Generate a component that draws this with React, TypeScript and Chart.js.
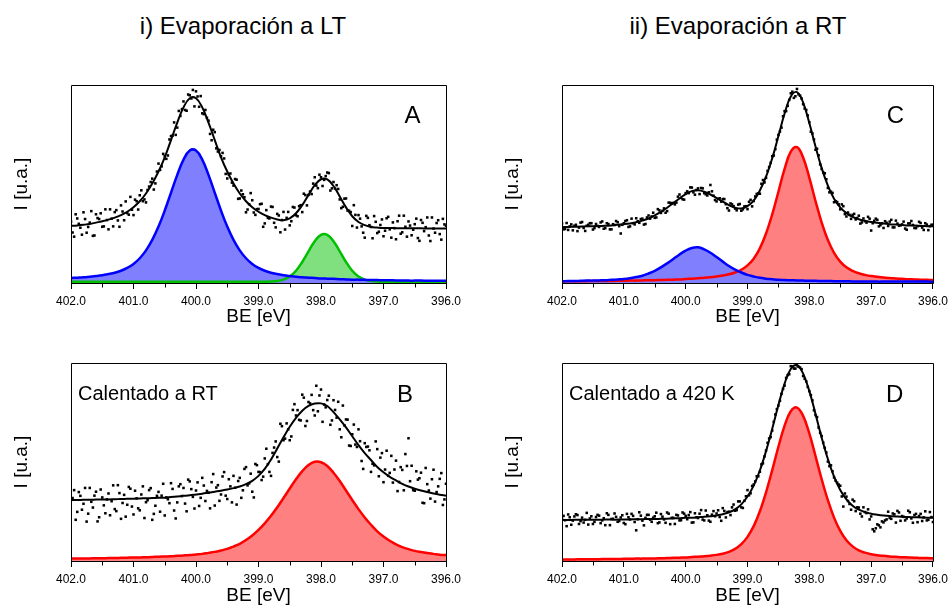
import React, { useEffect, useRef } from "react";
import { Chart, registerables } from "chart.js";

Chart.register(...registerables);

const FONT = '"Liberation Sans", Arial, Helvetica, sans-serif';

// Binding energy grid of the fitted curves (eV)
const X_FIT = [402.0,401.9,401.8,401.7,401.6,401.5,401.4,401.3,401.2,401.1,401.0,400.9,400.8,400.7,400.6,400.5,400.4,400.3,400.2,400.1,400.0,399.9,399.8,399.7,399.6,399.5,399.4,399.3,399.2,399.1,399.0,398.9,398.8,398.7,398.6,398.5,398.4,398.3,398.2,398.1,398.0,397.9,397.8,397.7,397.6,397.5,397.4,397.3,397.2,397.1,397.0,396.9,396.8,396.7,396.6,396.5,396.4,396.3,396.2,396.1,396.0];

// Binding energy grids of the measured points (eV)
const X_DATA = [402,401.95,401.9,401.85,401.8,401.75,401.7,401.65,401.6,401.55,
401.5,401.45,401.4,401.35,401.3,401.25,401.2,401.15,401.1,401.05,
401,400.95,400.9,400.85,400.8,400.75,400.7,400.65,400.6,400.55,
400.5,400.45,400.4,400.35,400.3,400.25,400.2,400.15,400.1,400.05,
400,399.95,399.9,399.85,399.8,399.75,399.7,399.65,399.6,399.55,
399.5,399.45,399.4,399.35,399.3,399.25,399.2,399.15,399.1,399.05,
399,398.95,398.9,398.85,398.8,398.75,398.7,398.65,398.6,398.55,
398.5,398.45,398.4,398.35,398.3,398.25,398.2,398.15,398.1,398.05,
398,397.95,397.9,397.85,397.8,397.75,397.7,397.65,397.6,397.55,
397.5,397.45,397.4,397.35,397.3,397.25,397.2,397.15,397.1,397.05,
397,396.95,396.9,396.85,396.8,396.75,396.7,396.65,396.6,396.55,
396.5,396.45,396.4,396.35,396.3,396.25,396.2,396.15,396.1,396.05,
396];
const X_DATA2 = [401.975,401.925,401.875,401.825,401.775,401.725,401.675,401.625,401.575,401.525,
401.475,401.425,401.375,401.325,401.275,401.225,401.175,401.125,401.075,401.025,
400.975,400.925,400.875,400.825,400.775,400.725,400.675,400.625,400.575,400.525,
400.475,400.425,400.375,400.325,400.275,400.225,400.175,400.125,400.075,400.025,
399.975,399.925,399.875,399.825,399.775,399.725,399.675,399.625,399.575,399.525,
399.475,399.425,399.375,399.325,399.275,399.225,399.175,399.125,399.075,399.025,
398.975,398.925,398.875,398.825,398.775,398.725,398.675,398.625,398.575,398.525,
398.475,398.425,398.375,398.325,398.275,398.225,398.175,398.125,398.075,398.025,
397.975,397.925,397.875,397.825,397.775,397.725,397.675,397.625,397.575,397.525,
397.475,397.425,397.375,397.325,397.275,397.225,397.175,397.125,397.075,397.025,
396.975,396.925,396.875,396.825,396.775,396.725,396.675,396.625,396.575,396.525,
396.475,396.425,396.375,396.325,396.275,396.225,396.175,396.125,396.075,396.025];

const X_TICKS = [402, 401, 400, 399, 398, 397, 396];
const X_MINOR_TICKS = [401.5, 400.5, 399.5, 398.5, 397.5, 396.5];

// ---------- Panel A (evaporation at LT) ----------
const A_FIT = [28.9,29.1,29.4,29.8,30.5,31.2,32.0,33.0,34.3,36.0,38.3,41.3,45.2,50.2,56.3,63.5,72.2,81.0,88.7,93.3,93.3,88.7,81.0,72.2,63.5,56.3,50.2,45.2,41.3,38.3,36.0,34.3,33.0,32.1,31.7,32.6,35.2,39.3,44.5,49.4,52.4,52.3,49.0,43.7,38.2,33.7,30.8,29.2,28.3,28.0,27.8,27.8,27.7,27.7,27.6,27.6,27.6,27.5,27.5,27.5,27.5];
const A_BLUE = [2.5,2.7,2.9,3.2,3.5,3.9,4.5,5.2,6.2,7.6,9.6,12.5,16.5,21.8,28.5,36.6,45.6,54.6,62.3,66.9,66.9,62.3,54.6,45.6,36.6,28.5,21.8,16.5,12.5,9.6,7.6,6.2,5.2,4.5,3.9,3.5,3.2,2.9,2.7,2.5,2.3,2.2,2.1,1.9,1.8,1.7,1.7,1.6,1.5,1.5,1.4,1.4,1.3,1.3,1.2,1.2,1.2,1.1,1.1,1.1,1.1];
const A_GREEN = [0.6,0.6,0.6,0.6,0.6,0.6,0.6,0.6,0.6,0.6,0.6,0.6,0.6,0.6,0.6,0.6,0.6,0.6,0.6,0.6,0.6,0.6,0.6,0.6,0.6,0.6,0.6,0.6,0.6,0.6,0.6,0.6,0.7,1.0,1.7,3.3,6.2,10.6,16.0,21.1,24.3,24.3,21.1,16.0,10.6,6.2,3.3,1.7,1.0,0.7,0.6,0.6,0.6,0.6,0.6,0.6,0.6,0.6,0.6,0.6,0.6];
const A_DATA = [31.0,23.4,32.6,27.9,35.7,25.4,30.5,23.8,34.7,32.3,
28.4,37.2,27.1,32.5,35.8,31.6,39.2,31.7,35.3,43.5,
34.3,41.3,44.3,41.3,40.7,48.7,52.7,50.3,60.3,58.9,
64.0,64.4,74.2,81.1,78.5,84.4,91.7,87.0,94.8,97.5,
96.8,89.0,85.7,87.4,82.0,72.1,76.2,66.4,64.0,62.9,
52.8,55.3,49.2,52.2,42.7,44.8,35.7,39.8,41.8,34.4,
37.4,40.0,30.1,32.9,38.6,30.4,34.9,25.6,35.9,32.9,
29.1,38.4,34.2,38.8,35.8,44.4,44.5,44.9,53.4,47.9,
53.4,52.1,55.8,46.7,51.0,49.4,42.2,38.5,42.7,36.5,
28.8,34.4,34.3,28.6,22.9,32.9,28.3,33.8,25.2,29.3,
23.6,32.7,27.1,30.6,22.1,34.0,25.6,28.4,31.1,24.1,
29.7,22.7,31.8,26.2,33.1,21.2,27.5,30.3,24.7,32.4,28.9];
const A_DATA2 = [25.5,34.7,29.9,24.4,32.3,28.3,36.3,24.0,32.8,35.2,
28.6,31.8,37.2,28.6,36.8,28.4,36.1,41.2,34.5,37.0,
42.1,37.1,46.8,42.2,47.0,51.0,47.2,56.3,57.1,65.2,
62.7,72.5,74.4,74.8,86.9,87.8,87.4,95.2,93.2,89.2,
94.2,94.4,85.3,83.4,75.3,77.4,68.0,67.2,65.7,55.1,
54.8,50.7,52.5,42.5,46.7,43.3,37.1,45.4,35.6,37.3,
39.8,28.4,36.8,32.6,38.4,28.1,34.1,31.8,27.0,35.9,
31.2,38.1,33.7,39.3,45.1,39.2,46.2,50.2,49.2,54.7,
49.0,54.0,55.5,47.8,47.7,47.5,37.8,42.6,36.6,35.8,
39.3,28.0,32.5,25.4,33.9,29.2,22.6,30.9,25.9,32.1,
26.4,33.4,22.9,27.7,31.2,24.9,34.0,23.4,29.0,26.9,
32.5,21.3,30.4,28.2,24.0,33.1,25.4,31.7,21.9,29.6];

// ---------- Panel B (heated to RT) ----------
const B_FIT = [30.8,30.8,30.9,30.9,31.0,31.1,31.1,31.2,31.3,31.4,31.5,31.6,31.7,31.8,31.9,32.0,32.3,32.6,32.9,33.2,33.6,34.0,34.5,35.0,35.5,36.1,36.8,37.6,38.8,40.5,43.0,46.5,51.2,56.8,62.5,67.8,72.3,75.9,78.3,79.5,79.6,78.3,75.2,71.5,67.5,63.0,58.5,54.5,51.0,47.5,44.8,42.5,40.7,39.0,37.6,36.5,35.6,34.8,34.1,33.5,33.0];
const B_RED = [1.2,1.3,1.3,1.3,1.4,1.4,1.5,1.5,1.6,1.7,1.8,1.8,1.9,2.0,2.2,2.3,2.4,2.6,2.8,3.0,3.3,3.6,4.1,4.6,5.3,6.1,7.3,8.7,10.6,12.9,15.7,19.0,22.8,27.1,31.8,36.6,41.3,45.4,48.5,50.1,49.9,48.0,44.6,40.4,35.6,30.8,26.2,22.0,18.3,15.0,12.4,10.2,8.4,7.0,6.0,5.1,4.5,4.0,3.6,3.2,3.0];
const B_DATA = [30.8,35.8,24.8,32.9,28.9,19.9,36.9,27.0,35.0,22.1,
32.1,24.1,34.1,30.2,26.2,38.3,21.3,33.4,28.4,36.5,
23.5,31.6,25.6,37.7,29.7,35.8,20.8,27.9,34.9,33.0,
23.0,31.2,39.3,25.5,29.6,38.8,36.9,25.1,40.2,32.4,
35.6,27.8,42.0,30.3,34.5,39.8,28.0,38.3,33.6,44.9,
31.3,37.7,43.0,28.5,42.0,35.7,47.4,39.2,35.0,49.0,
45.0,40.9,51.8,48.9,43.0,57.3,52.5,69.3,61.0,69.5,
61.0,76.3,73.5,71.3,84.0,68.2,80.3,83.9,73.5,75.6,
86.6,79.0,81.3,68.8,81.2,72.4,66.5,78.5,71.5,58.3,
64.0,58.8,66.5,50.5,59.5,57.8,45.0,48.3,56.5,52.2,
39.8,55.7,44.5,39.6,50.7,39.9,46.0,54.0,62.0,48.1,
35.5,41.1,44.6,29.2,38.8,31.5,46.1,34.8,41.5,28.3,39.0];
const B_DATA2 = [31.8,20.8,34.8,25.9,36.9,23.9,29.9,33.0,20.0,36.1,
28.1,31.1,23.1,38.2,25.2,34.3,29.3,22.4,37.4,27.5,
35.5,26.6,33.6,21.7,30.7,36.8,23.8,32.9,24.9,39.0,
32.1,29.2,36.4,21.5,37.7,32.8,29.0,41.1,36.3,26.5,
39.7,31.9,38.1,35.4,26.6,43.9,37.1,30.4,42.7,33.0,
41.3,29.6,37.0,40.4,31.9,46.5,38.2,44.1,32.1,48.4,
44.9,42.6,56.7,45.0,54.6,60.4,50.2,68.1,61.8,66.5,
62.9,79.2,76.2,71.0,82.5,70.7,79.6,76.2,88.5,83.6,
70.3,77.6,83.5,71.0,76.3,80.4,62.5,68.5,71.4,58.1,
68.9,57.6,60.5,46.5,57.6,55.9,49.1,60.4,42.8,54.5,
46.2,43.1,53.1,46.2,35.3,47.4,35.7,48.0,40.3,35.8,
45.3,41.8,29.4,47.0,35.6,41.3,30.0,37.7,44.4,31.1];

// ---------- Panel C (evaporation at RT) ----------
const C_FIT = [28.3,28.3,28.4,28.5,28.6,28.7,28.8,28.9,29.1,29.4,29.7,30.1,30.7,31.5,32.6,34.1,35.9,38.0,40.4,42.7,44.9,46.4,46.8,46.1,44.7,42.9,41.1,39.3,38.0,37.6,38.8,41.6,46.7,53.7,63.0,74.2,85.6,94.2,96.4,91.1,80.8,68.9,58.0,49.2,42.6,38.2,35.3,33.4,32.2,31.4,30.8,30.4,30.0,29.7,29.5,29.3,29.1,29.0,28.8,28.7,28.6];
const C_BLUE = [0.9,1.0,1.0,1.1,1.2,1.2,1.3,1.4,1.6,1.8,2.0,2.4,3.0,3.7,4.8,6.1,7.9,9.9,12.1,14.4,16.4,17.7,18.0,17.0,15.3,13.1,10.8,8.6,6.8,5.3,4.1,3.3,2.6,2.2,1.9,1.6,1.5,1.4,1.3,1.2,1.1,1.1,1.0,1.0,0.9,0.9,0.9,0.8,0.8,0.8,0.8,0.7,0.7,0.7,0.7,0.7,0.7,0.7,0.7,0.7,0.6];
const C_RED = [0.8,0.9,0.9,0.9,0.9,1.0,1.0,1.0,1.0,1.1,1.1,1.2,1.2,1.3,1.4,1.4,1.5,1.6,1.7,1.8,2.0,2.2,2.4,2.6,2.9,3.3,3.8,4.4,5.3,6.7,8.9,12.3,17.5,25.0,34.7,46.1,57.6,66.3,68.6,63.4,53.2,41.4,30.5,21.7,15.2,10.8,7.9,6.1,4.9,4.1,3.5,3.1,2.8,2.5,2.3,2.1,1.9,1.8,1.7,1.6,1.5];
const C_DATA = [30.1,27.3,26.8,29.6,28.9,26.2,30.5,27.8,28.9,30.2,
27.0,29.8,28.3,31.1,27.7,29.8,27.1,29.3,30.7,25.0,
30.2,31.7,28.6,30.2,32.7,30.4,32.5,29.8,34.1,33.6,
32.9,37.3,35.4,37.7,36.3,40.5,40.4,40.6,44.7,42.3,
45.4,45.4,48.2,44.6,47.8,48.0,45.4,44.2,49.5,44.1,
41.2,42.8,42.4,39.8,36.6,39.7,37.6,39.6,36.5,38.7,
37.3,42.0,41.4,45.0,45.1,52.0,53.1,58.6,64.0,67.6,
74.8,78.5,86.8,89.5,95.8,93.5,98.0,94.6,90.3,87.4,
81.2,75.5,67.3,64.5,57.6,55.4,48.0,46.1,40.8,40.9,
37.2,38.8,33.6,34.4,34.4,32.1,34.0,30.6,31.2,33.4,
26.5,31.4,31.9,29.2,27.8,30.4,31.0,28.1,31.5,28.9,
29.6,27.5,30.1,31.3,27.8,28.7,30.3,26.8,29.5,28.7,29.4];
const C_DATA2 = [27.1,30.3,28.6,26.6,29.4,28.0,30.8,26.3,29.4,30.2,
27.7,28.8,30.6,27.4,30.2,27.1,29.7,31.3,28.7,29.4,
31.3,28.3,32.5,29.6,31.2,32.3,29.5,33.1,32.5,35.5,
33.1,36.7,36.4,35.5,40.6,40.3,39.7,43.6,43.0,42.1,
46.3,48.3,45.8,47.0,44.9,47.8,44.8,45.8,46.3,41.9,
42.5,41.1,42.4,37.8,40.2,38.8,36.7,39.9,37.2,38.8,
41.0,38.7,43.7,45.2,50.1,50.8,56.6,60.7,64.4,72.4,
76.5,84.2,86.8,92.5,96.6,94.3,95.3,93.2,88.1,84.6,
76.4,72.5,67.8,59.9,55.8,52.4,45.8,45.5,41.3,39.7,
39.7,34.8,35.6,32.4,34.9,32.8,30.0,32.6,30.5,32.5,
30.2,32.5,28.6,30.1,31.2,28.8,31.9,28.1,30.0,29.1,
31.0,26.9,30.1,29.3,27.7,30.9,28.0,30.2,26.7,29.4];

// ---------- Panel D (heated to 420 K) ----------
const D_FIT = [20.7,20.7,20.8,20.8,20.8,20.8,20.8,20.9,20.9,20.9,21.0,21.0,21.1,21.1,21.2,21.2,21.3,21.4,21.5,21.6,21.8,21.9,22.1,22.3,22.6,23.0,23.6,24.6,26.1,28.6,32.6,38.1,45.7,55.5,66.8,78.8,89.6,97.0,98.9,94.6,85.8,74.3,62.3,51.5,42.6,35.9,31.1,27.9,25.9,24.7,23.9,23.4,23.0,22.7,22.5,22.3,22.2,22.1,22.0,21.9,21.8];
const D_RED = [0.8,0.8,0.8,0.9,0.9,0.9,0.9,1.0,1.0,1.0,1.1,1.1,1.2,1.2,1.3,1.3,1.4,1.5,1.6,1.7,1.8,2.0,2.2,2.4,2.7,3.1,3.7,4.6,6.1,8.5,12.2,17.6,25.1,34.7,45.9,57.7,68.4,75.6,77.5,73.3,64.4,53.0,41.3,30.7,21.9,15.2,10.5,7.4,5.4,4.2,3.4,2.9,2.6,2.3,2.1,1.9,1.8,1.7,1.5,1.5,1.4];
const D_DATA = [21.7,20.6,23.5,18.3,22.5,23.2,20.1,19.4,24.3,21.5,
18.7,22.2,22.9,20.5,18.1,23.3,21.2,24.0,19.8,22.0,
19.2,23.8,21.0,22.8,15.5,24.6,20.4,21.8,23.3,19.8,
22.6,19.1,23.7,21.0,24.5,18.6,21.8,23.3,20.5,24.5,
22.8,23.2,19.4,24.1,21.7,25.7,20.5,23.1,19.8,25.2,
24.0,22.2,26.7,22.0,24.9,27.1,25.4,30.1,27.1,30.4,
35.8,34.2,38.6,42.8,45.1,49.3,55.8,61.9,65.9,74.0,
78.5,84.4,88.6,93.9,98.4,97.2,98.8,97.7,93.4,90.7,
85.8,81.1,73.7,67.4,63.1,57.2,50.2,48.3,42.2,39.6,
38.0,27.5,32.5,28.8,31.0,25.2,27.0,22.5,24.7,26.1,
22.5,15.0,18.5,17.0,19.5,21.0,21.7,24.0,19.4,24.5,
22.7,20.5,25.4,21.5,23.2,19.6,23.8,22.0,20.5,24.7,19.7];
const D_DATA2 = [22.8,17.6,22.1,20.4,23.6,18.7,21.9,20.8,18.4,22.6,
19.8,23.3,19.1,21.6,24.1,18.1,21.3,22.3,20.2,23.1,
18.6,22.1,23.8,19.7,21.1,22.9,18.0,23.3,20.9,21.9,
24.4,19.5,22.4,19.3,23.9,21.8,18.7,23.0,20.6,23.9,
21.1,24.7,19.5,22.1,23.9,20.9,25.5,20.4,23.4,22.6,
25.6,20.3,25.3,24.7,23.2,28.5,25.7,30.1,26.8,32.7,
33.2,37.9,40.2,42.8,48.8,52.8,59.7,62.6,70.3,76.7,
80.9,86.9,92.5,94.3,98.2,97.2,98.1,96.9,92.0,87.9,
83.8,76.1,72.7,64.7,59.8,54.8,47.9,45.3,40.6,38.6,
32.6,34.1,30.3,25.9,30.2,27.1,23.9,27.1,24.2,21.0,
16.0,16.5,18.0,20.0,20.5,24.9,21.3,23.6,25.3,20.3,
22.3,21.5,24.6,19.3,23.8,22.7,20.2,25.1,20.8,22.2];

const BLUE_LINE = "#0000ff";
const BLUE_FILL = "#8080ff";
const RED_LINE = "#ff0000";
const RED_FILL = "#ff8080";
const GREEN_LINE = "#00c000";
const GREEN_FILL = "#80e080";

type Comp = { values: number[]; line: string; fill: string };

function toPts(xs: number[], ys: number[]) {
  return xs.map((x, i) => ({ x, y: ys[i] }));
}

const framePlugin = {
  id: "frameAndMinorTicks",
  afterDraw(chart: any) {
    const { ctx, chartArea, scales } = chart;
    const { left, right, top, bottom } = chartArea;
    ctx.save();
    ctx.strokeStyle = "#000";
    ctx.lineWidth = 1;
    ctx.beginPath();
    const l = Math.round(left) + 0.5;
    const r = Math.round(right) + 0.5;
    const t = Math.round(top) + 0.5;
    const b = Math.round(bottom) + 0.5;
    ctx.moveTo(l, t);
    ctx.lineTo(r, t);
    ctx.lineTo(r, b);
    ctx.lineTo(l, b);
    ctx.closePath();
    for (const v of X_MINOR_TICKS) {
      const px = Math.round(scales.x.getPixelForValue(v)) + 0.5;
      ctx.moveTo(px, b);
      ctx.lineTo(px, b + 4);
    }
    ctx.stroke();
    ctx.restore();
  },
};

type PanelProps = {
  left: number;
  top: number;
  width: number;
  height: number;
  padRight: number;
  xH: number;
  xTitlePad: number;
  fit: number[];
  data: number[];
  data2: number[];
  comps: Comp[];
};

function dotSet(xs: number[], ys: number[]) {
  return {
    data: toPts(xs, ys),
    showLine: false,
    pointRadius: 1.8,
    pointStyle: "rect",
    pointBackgroundColor: "#000",
    pointBorderWidth: 0,
    borderColor: "#000",
    backgroundColor: "#000",
    fill: false,
  };
}

function Panel(p: PanelProps) {
  const ref = useRef<HTMLCanvasElement | null>(null);
  useEffect(() => {
    const canvas = ref.current;
    if (!canvas) return;
    const datasets: any[] = [
      dotSet(X_DATA, p.data),
      dotSet(X_DATA2, p.data2),
      {
        data: toPts(X_FIT, p.fit),
        borderColor: "#000",
        borderWidth: 2,
        pointRadius: 0,
        tension: 0.4,
        fill: false,
      },
      ...p.comps.map((c) => ({
        data: toPts(X_FIT, c.values),
        borderColor: c.line,
        backgroundColor: c.fill,
        borderWidth: 2.5,
        pointRadius: 0,
        tension: 0.4,
        fill: "origin",
      })),
    ];
    const chart = new Chart(canvas, {
      type: "line",
      data: { datasets },
      options: {
        animation: false,
        responsive: false,
        devicePixelRatio: 1,
        events: [],
        layout: { padding: { left: 0, top: 15, right: p.padRight, bottom: 0 } },
        plugins: {
          legend: { display: false },
          tooltip: { enabled: false },
          filler: { drawTime: "beforeDatasetsDraw" },
        } as any,
        scales: {
          x: {
            type: "linear",
            min: 396,
            max: 402,
            reverse: true,
            afterFit: (s: any) => {
              s.height = p.xH;
            },
            afterBuildTicks: (s: any) => {
              s.ticks = X_TICKS.map((v) => ({ value: v }));
            },
            grid: {
              display: true,
              drawOnChartArea: false,
              drawTicks: true,
              tickLength: 6,
              color: "#000",
              lineWidth: 1,
            },
            border: { display: false },
            ticks: {
              padding: 5,
              color: "#000",
              autoSkip: false,
              maxRotation: 0,
              font: { family: FONT, size: 12 },
              callback: (v: any) => Number(v).toFixed(1),
            },
            title: {
              display: true,
              text: "BE [eV]",
              color: "#000",
              font: { family: FONT, size: 19, lineHeight: 1 },
              padding: { top: 0, bottom: p.xTitlePad },
            },
          },
          y: {
            type: "linear",
            min: 0,
            max: 100,
            afterFit: (s: any) => {
              s.width = 71;
            },
            grid: { display: false },
            border: { display: false },
            ticks: { display: false },
            title: {
              display: true,
              text: "I [u.a.]",
              color: "#000",
              font: { family: FONT, size: 19, lineHeight: 1 },
              padding: { top: 12, bottom: 0 },
            },
          },
        } as any,
      },
      plugins: [framePlugin],
    } as any);
    return () => chart.destroy();
  }, []);
  return (
    <canvas
      ref={ref}
      width={p.width}
      height={p.height}
      style={{ position: "absolute", left: p.left, top: p.top, width: p.width, height: p.height }}
    />
  );
}

function Txt(props: { text: string; x: number; baseline: number; size: number; center?: boolean }) {
  const { text, x, baseline, size, center } = props;
  return (
    <div
      style={{
        position: "absolute",
        left: x,
        top: baseline - 0.8465 * size,
        fontFamily: FONT,
        fontSize: size,
        lineHeight: 1,
        whiteSpace: "nowrap",
        color: "#000",
        transform: center ? "translateX(-50%)" : undefined,
      }}
    >
      {text}
    </div>
  );
}

export default function App() {
  return (
    <div
      style={{
        position: "fixed",
        left: 0,
        top: 0,
        width: 952,
        height: 605,
        overflow: "hidden",
        background: "#fff",
      }}
    >
      <Panel
        left={0}
        top={70}
        width={470}
        height={260}
        padRight={24}
        xH={47}
        xTitlePad={3.5}
        fit={A_FIT}
        data={A_DATA}
        data2={A_DATA2}
        comps={[
          { values: A_BLUE, line: BLUE_LINE, fill: BLUE_FILL },
          { values: A_GREEN, line: GREEN_LINE, fill: GREEN_FILL },
        ]}
      />
      <Panel
        left={491}
        top={70}
        width={462}
        height={260}
        padRight={16}
        xH={47}
        xTitlePad={3.5}
        fit={C_FIT}
        data={C_DATA}
        data2={C_DATA2}
        comps={[
          { values: C_BLUE, line: BLUE_LINE, fill: BLUE_FILL },
          { values: C_RED, line: RED_LINE, fill: RED_FILL },
        ]}
      />
      <Panel
        left={0}
        top={348}
        width={470}
        height={257}
        padRight={24}
        xH={44}
        xTitlePad={0}
        fit={B_FIT}
        data={B_DATA}
        data2={B_DATA2}
        comps={[{ values: B_RED, line: RED_LINE, fill: RED_FILL }]}
      />
      <Panel
        left={491}
        top={348}
        width={462}
        height={257}
        padRight={16}
        xH={44}
        xTitlePad={0}
        fit={D_FIT}
        data={D_DATA}
        data2={D_DATA2}
        comps={[{ values: D_RED, line: RED_LINE, fill: RED_FILL }]}
      />
      <Txt text="i) Evaporación a LT" x={243} baseline={34.3} size={24} center />
      <Txt text="ii) Evaporación a RT" x={738} baseline={34.3} size={24} center />
      <Txt text="A" x={412.5} baseline={123} size={24} center />
      <Txt text="C" x={895.5} baseline={123} size={24} center />
      <Txt text="B" x={405} baseline={402} size={24} center />
      <Txt text="D" x={894.7} baseline={402} size={24} center />
      <Txt text="Calentado a RT" x={78} baseline={400} size={20} />
      <Txt text="Calentado a 420 K" x={569} baseline={400} size={20} />
    </div>
  );
}
